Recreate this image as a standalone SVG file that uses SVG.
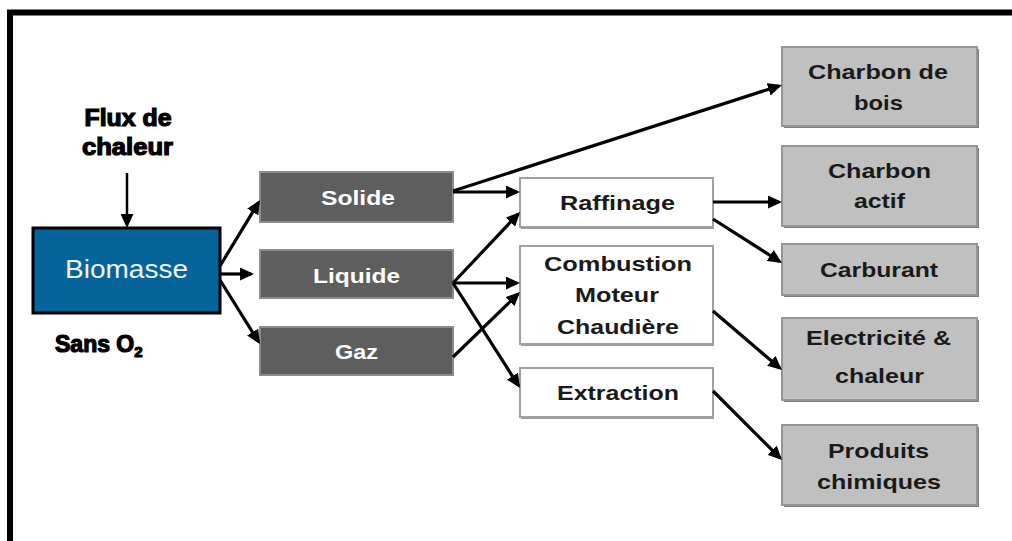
<svg xmlns="http://www.w3.org/2000/svg" width="1012" height="541" viewBox="0 0 1012 541">
<defs>
<style>
.t{font-family:"Liberation Sans",Arial,sans-serif;text-anchor:middle}
.w{fill:#fff;font-size:20px;font-weight:bold}
.b{fill:#1a1a1a;font-size:21px;font-weight:bold}
.h{fill:#000;font-size:23px;font-weight:bold;stroke:#000;stroke-width:1.2px}
.gray{fill:#5e5e5e;stroke:#8c8c8c;stroke-width:2}
.wht{fill:#fff;stroke:#a0a0a0;stroke-width:2}
.lt{fill:#c0c0c0;stroke:#959595;stroke-width:2}
.sh{fill:#7e7e7e}
.shw{fill:#9a9a9a}
.c line{stroke:#000;stroke-width:3.2;marker-end:url(#ah)}
</style>
<marker id="ah" markerUnits="userSpaceOnUse" markerWidth="15" markerHeight="13" refX="11" refY="6.5" orient="auto">
<path d="M0,0 L14,6.5 L0,13 z" fill="#000"/>
</marker>
</defs>
<rect width="1012" height="541" fill="#fff"/>
<g id="frame" fill="none" stroke="#000" stroke-width="6">
<polyline points="10,541 10,12.5 1012,12.5"/>
</g>
<g id="flux"><text class="t h" x="128" y="126" textLength="87" lengthAdjust="spacingAndGlyphs">Flux de</text><text class="t h" x="127.5" y="155" textLength="91" lengthAdjust="spacingAndGlyphs">chaleur</text></g>
<g id="sans"><text x="55" y="352" class="h" style="font-family:'Liberation Sans',Arial,sans-serif">Sans O<tspan font-size="15" dy="5">2</tspan></text></g>
<g id="biomasse"><rect x="33" y="228" width="187" height="85" fill="#05659a" stroke="#000" stroke-width="3"/><text class="t" x="126.5" y="278" fill="#f2f2f2" font-size="26" textLength="123" lengthAdjust="spacingAndGlyphs">Biomasse</text></g>
<g id="solide"><rect class="gray" x="260" y="172" width="193" height="50"/><text class="t w" x="358" y="205" textLength="74" lengthAdjust="spacingAndGlyphs">Solide</text></g>
<g id="liquide"><rect class="gray" x="260" y="250" width="193" height="48"/><text class="t w" x="356.5" y="283" textLength="87" lengthAdjust="spacingAndGlyphs">Liquide</text></g>
<g id="gaz"><rect class="gray" x="260" y="327" width="193" height="48"/><text class="t w" x="356.5" y="359" textLength="43" lengthAdjust="spacingAndGlyphs">Gaz</text></g>
<g id="raffinage"><rect class="shw" x="521" y="180" width="193" height="49"/><rect class="wht" x="520" y="178" width="193" height="49"/><text class="t b" x="617.5" y="210" textLength="115" lengthAdjust="spacingAndGlyphs">Raffinage</text></g>
<g id="combustion"><rect class="shw" x="521" y="248" width="193" height="98"/><rect class="wht" x="520" y="246" width="193" height="98"/><text class="t b" x="618" y="271" textLength="148" lengthAdjust="spacingAndGlyphs">Combustion</text><text class="t b" x="617" y="302" textLength="84" lengthAdjust="spacingAndGlyphs">Moteur</text><text class="t b" x="618" y="334" textLength="122" lengthAdjust="spacingAndGlyphs">Chaudière</text></g>
<g id="extraction"><rect class="shw" x="521" y="370" width="193" height="49"/><rect class="wht" x="520" y="368" width="193" height="49"/><text class="t b" x="618" y="400" textLength="122" lengthAdjust="spacingAndGlyphs">Extraction</text></g>
<g id="charbon-bois"><rect class="sh" x="784" y="49" width="195" height="79"/><rect class="lt" x="782" y="47" width="195" height="79"/><text class="t b" x="878" y="79" textLength="140" lengthAdjust="spacingAndGlyphs">Charbon de</text><text class="t b" x="878.5" y="110" textLength="49" lengthAdjust="spacingAndGlyphs">bois</text></g>
<g id="charbon-actif"><rect class="sh" x="784" y="148" width="195" height="80"/><rect class="lt" x="782" y="146" width="195" height="80"/><text class="t b" x="879.5" y="178" textLength="103" lengthAdjust="spacingAndGlyphs">Charbon</text><text class="t b" x="879.5" y="208" textLength="51" lengthAdjust="spacingAndGlyphs">actif</text></g>
<g id="carburant"><rect class="sh" x="784" y="246" width="195" height="51"/><rect class="lt" x="782" y="244" width="195" height="51"/><text class="t b" x="879" y="277" textLength="118" lengthAdjust="spacingAndGlyphs">Carburant</text></g>
<g id="electricite"><rect class="sh" x="784" y="320" width="195" height="82"/><rect class="lt" x="782" y="318" width="195" height="82"/><text class="t b" x="878.5" y="345" textLength="145" lengthAdjust="spacingAndGlyphs">Electricité &amp;</text><text class="t b" x="879.5" y="383" textLength="89" lengthAdjust="spacingAndGlyphs">chaleur</text></g>
<g id="produits"><rect class="sh" x="784" y="427" width="195" height="80"/><rect class="lt" x="782" y="425" width="195" height="80"/><text class="t b" x="878.5" y="458" textLength="101" lengthAdjust="spacingAndGlyphs">Produits</text><text class="t b" x="879" y="489" textLength="124" lengthAdjust="spacingAndGlyphs">chimiques</text></g>
<g id="connectors" class="c">
<line x1="127" y1="173" x2="127" y2="225" style="stroke-width:2.5"/>
<line x1="220" y1="266" x2="258.4" y2="202.6"/>
<line x1="220" y1="274" x2="251" y2="274"/>
<line x1="220" y1="280" x2="258.4" y2="341.5"/>
<line x1="453" y1="191" x2="779.1" y2="85.9"/>
<line x1="453" y1="192" x2="517" y2="192"/>
<line x1="453" y1="283" x2="518" y2="214.2"/>
<line x1="453" y1="283" x2="517" y2="283"/>
<line x1="453" y1="283" x2="518.4" y2="385.5"/>
<line x1="453" y1="357" x2="517.8" y2="294.1"/>
<line x1="713" y1="202" x2="779" y2="202"/>
<line x1="713" y1="219" x2="779.5" y2="261.4"/>
<line x1="713" y1="311" x2="779.7" y2="368"/>
<line x1="713" y1="391" x2="779.9" y2="457.9"/>
</g>
</svg>
